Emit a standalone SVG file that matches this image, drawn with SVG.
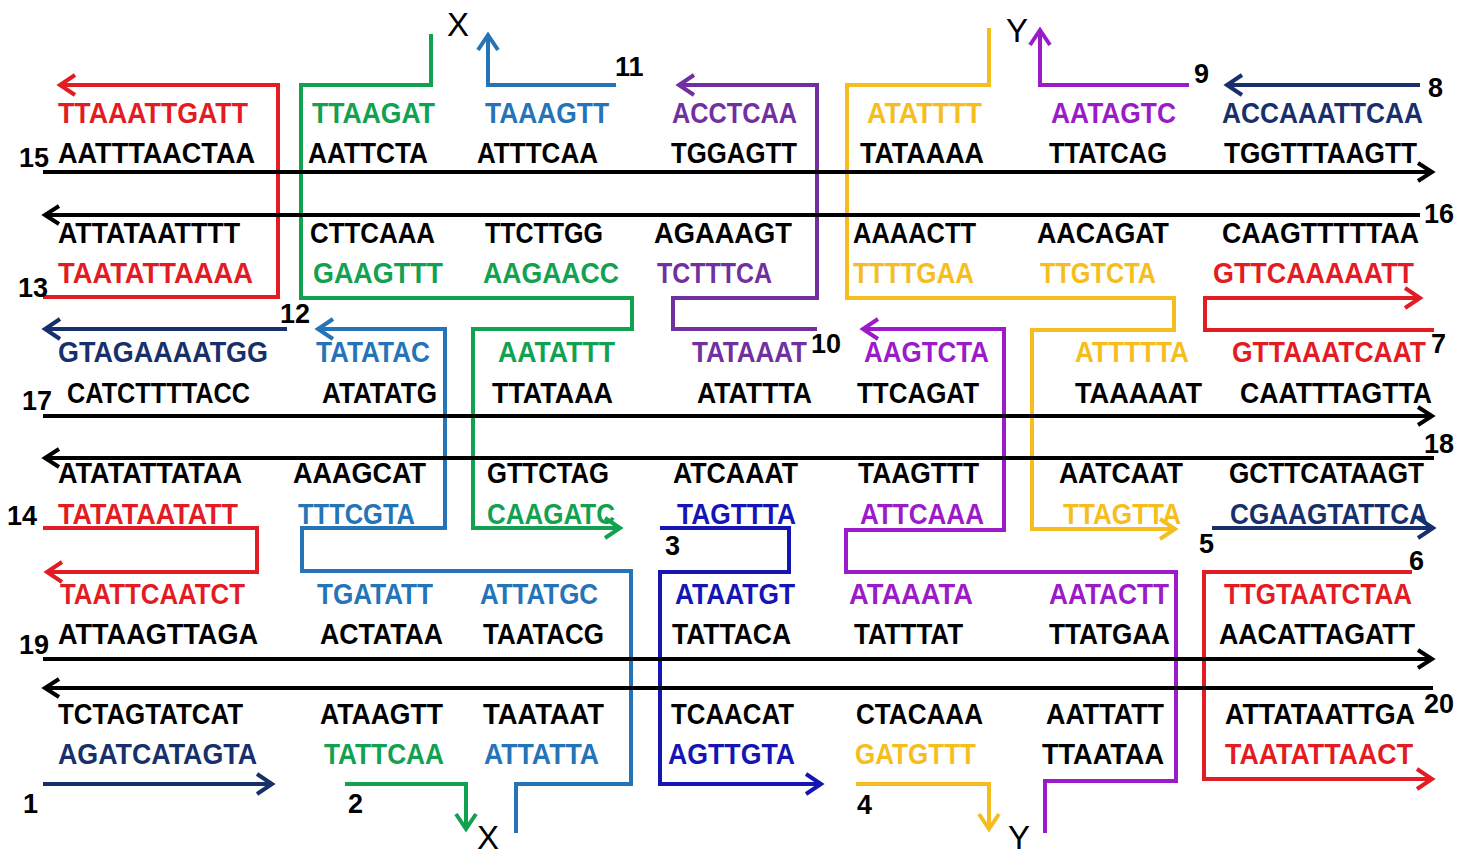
<svg xmlns="http://www.w3.org/2000/svg" width="1472" height="856" viewBox="0 0 1472 856">
<style>
text{font-family:"Liberation Sans",Arial,sans-serif}
.seq{font-size:29px;font-weight:bold}
.num{font-size:27px;font-weight:bold;fill:#000}
.xy{font-size:33px;fill:#000}
.k{fill:#000}.r{fill:#E31B23}.g{fill:#12A150}.b{fill:#2574B8}.n{fill:#17306B}.d{fill:#1515B5}.p{fill:#7030A0}.q{fill:#9B1BC9}.y{fill:#F5BE1E}
.s{fill:none;stroke-width:4;stroke-linejoin:miter}
.sk{stroke:#000}.sr{stroke:#E31B23}.sg{stroke:#12A150}.sb{stroke:#2574B8}.sn{stroke:#17306B}.sd{stroke:#1515B5}.sp{stroke:#7030A0}.sq{stroke:#9B1BC9}.sy{stroke:#F5BE1E}
.m{fill:none;stroke-width:4}
</style>
<defs>
<marker id="ak" viewBox="0 0 20 20" markerWidth="20" markerHeight="20" refX="18" refY="10" orient="auto" markerUnits="userSpaceOnUse" overflow="visible"><path class="m" d="M4,1 L18,10 L4,19" stroke="#000"/></marker>
<marker id="ar" viewBox="0 0 20 20" markerWidth="20" markerHeight="20" refX="18" refY="10" orient="auto" markerUnits="userSpaceOnUse" overflow="visible"><path class="m" d="M3,0 L18,10 L3,20" stroke="#E31B23"/></marker>
<marker id="ag" viewBox="0 0 20 20" markerWidth="20" markerHeight="20" refX="18" refY="10" orient="auto" markerUnits="userSpaceOnUse" overflow="visible"><path class="m" d="M3,0 L18,10 L3,20" stroke="#12A150"/></marker>
<marker id="ab" viewBox="0 0 20 20" markerWidth="20" markerHeight="20" refX="18" refY="10" orient="auto" markerUnits="userSpaceOnUse" overflow="visible"><path class="m" d="M3,0 L18,10 L3,20" stroke="#2574B8"/></marker>
<marker id="an" viewBox="0 0 20 20" markerWidth="20" markerHeight="20" refX="18" refY="10" orient="auto" markerUnits="userSpaceOnUse" overflow="visible"><path class="m" d="M3,0 L18,10 L3,20" stroke="#17306B"/></marker>
<marker id="ad" viewBox="0 0 20 20" markerWidth="20" markerHeight="20" refX="18" refY="10" orient="auto" markerUnits="userSpaceOnUse" overflow="visible"><path class="m" d="M3,0 L18,10 L3,20" stroke="#1515B5"/></marker>
<marker id="ap" viewBox="0 0 20 20" markerWidth="20" markerHeight="20" refX="18" refY="10" orient="auto" markerUnits="userSpaceOnUse" overflow="visible"><path class="m" d="M3,0 L18,10 L3,20" stroke="#7030A0"/></marker>
<marker id="aq" viewBox="0 0 20 20" markerWidth="20" markerHeight="20" refX="18" refY="10" orient="auto" markerUnits="userSpaceOnUse" overflow="visible"><path class="m" d="M3,0 L18,10 L3,20" stroke="#9B1BC9"/></marker>
<marker id="ay" viewBox="0 0 20 20" markerWidth="20" markerHeight="20" refX="18" refY="10" orient="auto" markerUnits="userSpaceOnUse" overflow="visible"><path class="m" d="M3,0 L18,10 L3,20" stroke="#F5BE1E"/></marker>
</defs>
<rect width="1472" height="856" fill="#fff"/>

<g id="strands">
<path class="s sr" d="M43,297 H278 V85 H60" marker-end="url(#ar)"/>
<path class="s sg" d="M431,34 V85 H301 V298 H632 V329 H473 V528 H620" marker-end="url(#ag)"/>
<path class="s sb" d="M616,85 H488 V35" marker-end="url(#ab)"/>
<path class="s sp" d="M817,329 H673 V298 H817 V85 H679" marker-end="url(#ap)"/>
<path class="s sy" d="M989,28 V85 H847 V298 H1174 V330 H1032 V529 H1175" marker-end="url(#ay)"/>
<path class="s sq" d="M1189,85 H1040 V30" marker-end="url(#aq)"/>
<path class="s sn" d="M1420,85 H1227" marker-end="url(#an)"/>
<path class="s sn" d="M287,329 H45" marker-end="url(#an)"/>
<path class="s sb" d="M516,833 V784 H631 V571 H302 V528 H445 V329 H318" marker-end="url(#ab)"/>
<path class="s sq" d="M1045,833 V781 H1176 V572 H846 V530 H1004 V329 H863" marker-end="url(#aq)"/>
<path class="s sr" d="M1434,330 H1205 V298 H1420" marker-end="url(#ar)"/>
<path class="s sr" d="M43,528 H257 V572 H47" marker-end="url(#ar)"/>
<path class="s sd" d="M660,528 H789 V572 H660 V784 H821" marker-end="url(#ad)"/>
<path class="s sn" d="M1212,528 H1433" marker-end="url(#an)"/>
<path class="s sr" d="M1412,572 H1204 V779 H1432" marker-end="url(#ar)"/>
<path class="s sn" d="M43,784 H272" marker-end="url(#an)"/>
<path class="s sg" d="M345,784 H466 V829" marker-end="url(#ag)"/>
<path class="s sy" d="M856,784 H989 V829" marker-end="url(#ay)"/>
</g>

<g id="duplex">
<path class="s sk" d="M43,172 H1432" marker-end="url(#ak)"/>
<path class="s sk" d="M1420,215 H45" marker-end="url(#ak)"/>
<path class="s sk" d="M43,416 H1432" marker-end="url(#ak)"/>
<path class="s sk" d="M1434,458 H45" marker-end="url(#ak)"/>
<path class="s sk" d="M43,659 H1432" marker-end="url(#ak)"/>
<path class="s sk" d="M1433,688 H45" marker-end="url(#ak)"/>
</g>

<g id="rowA" class="seq">
<text class="r" x="58" y="123" textLength="190" lengthAdjust="spacingAndGlyphs">TTAAATTGATT</text>
<text class="g" x="312" y="123" textLength="123" lengthAdjust="spacingAndGlyphs">TTAAGAT</text>
<text class="b" x="485" y="123" textLength="124" lengthAdjust="spacingAndGlyphs">TAAAGTT</text>
<text class="p" x="672" y="123" textLength="125" lengthAdjust="spacingAndGlyphs">ACCTCAA</text>
<text class="y" x="867" y="123" textLength="115" lengthAdjust="spacingAndGlyphs">ATATTTT</text>
<text class="q" x="1051" y="123" textLength="125" lengthAdjust="spacingAndGlyphs">AATAGTC</text>
<text class="n" x="1222" y="123" textLength="201" lengthAdjust="spacingAndGlyphs">ACCAAATTCAA</text>
</g>
<g id="rowB" class="seq">
<text class="k" x="58" y="163" textLength="197" lengthAdjust="spacingAndGlyphs">AATTTAACTAA</text>
<text class="k" x="308" y="163" textLength="120" lengthAdjust="spacingAndGlyphs">AATTCTA</text>
<text class="k" x="477" y="163" textLength="121" lengthAdjust="spacingAndGlyphs">ATTTCAA</text>
<text class="k" x="671" y="163" textLength="126" lengthAdjust="spacingAndGlyphs">TGGAGTT</text>
<text class="k" x="860" y="163" textLength="124" lengthAdjust="spacingAndGlyphs">TATAAAA</text>
<text class="k" x="1049" y="163" textLength="118" lengthAdjust="spacingAndGlyphs">TTATCAG</text>
<text class="k" x="1224" y="163" textLength="193" lengthAdjust="spacingAndGlyphs">TGGTTTAAGTT</text>
</g>
<g id="rowC" class="seq">
<text class="k" x="58" y="243" textLength="182" lengthAdjust="spacingAndGlyphs">ATTATAATTTT</text>
<text class="k" x="310" y="243" textLength="125" lengthAdjust="spacingAndGlyphs">CTTCAAA</text>
<text class="k" x="485" y="243" textLength="118" lengthAdjust="spacingAndGlyphs">TTCTTGG</text>
<text class="k" x="654" y="243" textLength="138" lengthAdjust="spacingAndGlyphs">AGAAAGT</text>
<text class="k" x="853" y="243" textLength="123" lengthAdjust="spacingAndGlyphs">AAAACTT</text>
<text class="k" x="1037" y="243" textLength="132" lengthAdjust="spacingAndGlyphs">AACAGAT</text>
<text class="k" x="1222" y="243" textLength="197" lengthAdjust="spacingAndGlyphs">CAAGTTTTTAA</text>
</g>
<g id="rowD" class="seq">
<text class="r" x="58" y="283" textLength="195" lengthAdjust="spacingAndGlyphs">TAATATTAAAA</text>
<text class="g" x="313" y="283" textLength="130" lengthAdjust="spacingAndGlyphs">GAAGTTT</text>
<text class="g" x="483" y="283" textLength="136" lengthAdjust="spacingAndGlyphs">AAGAACC</text>
<text class="p" x="657" y="283" textLength="115" lengthAdjust="spacingAndGlyphs">TCTTTCA</text>
<text class="y" x="853" y="283" textLength="121" lengthAdjust="spacingAndGlyphs">TTTTGAA</text>
<text class="y" x="1040" y="283" textLength="116" lengthAdjust="spacingAndGlyphs">TTGTCTA</text>
<text class="r" x="1213" y="283" textLength="201" lengthAdjust="spacingAndGlyphs">GTTCAAAAATT</text>
</g>
<g id="rowE" class="seq">
<text class="n" x="58" y="362" textLength="210" lengthAdjust="spacingAndGlyphs">GTAGAAAATGG</text>
<text class="b" x="316" y="362" textLength="114" lengthAdjust="spacingAndGlyphs">TATATAC</text>
<text class="g" x="498" y="362" textLength="117" lengthAdjust="spacingAndGlyphs">AATATTT</text>
<text class="p" x="692" y="362" textLength="115" lengthAdjust="spacingAndGlyphs">TATAAAT</text>
<text class="q" x="864" y="362" textLength="125" lengthAdjust="spacingAndGlyphs">AAGTCTA</text>
<text class="y" x="1075" y="362" textLength="114" lengthAdjust="spacingAndGlyphs">ATTTTTA</text>
<text class="r" x="1232" y="362" textLength="194" lengthAdjust="spacingAndGlyphs">GTTAAATCAAT</text>
</g>
<g id="rowF" class="seq">
<text class="k" x="67" y="403" textLength="183" lengthAdjust="spacingAndGlyphs">CATCTTTTACC</text>
<text class="k" x="322" y="403" textLength="115" lengthAdjust="spacingAndGlyphs">ATATATG</text>
<text class="k" x="492" y="403" textLength="121" lengthAdjust="spacingAndGlyphs">TTATAAA</text>
<text class="k" x="697" y="403" textLength="115" lengthAdjust="spacingAndGlyphs">ATATTTA</text>
<text class="k" x="857" y="403" textLength="122" lengthAdjust="spacingAndGlyphs">TTCAGAT</text>
<text class="k" x="1075" y="403" textLength="127" lengthAdjust="spacingAndGlyphs">TAAAAAT</text>
<text class="k" x="1240" y="403" textLength="192" lengthAdjust="spacingAndGlyphs">CAATTTAGTTA</text>
</g>
<g id="rowG" class="seq">
<text class="k" x="58" y="483" textLength="184" lengthAdjust="spacingAndGlyphs">ATATATTATAA</text>
<text class="k" x="293" y="483" textLength="133" lengthAdjust="spacingAndGlyphs">AAAGCAT</text>
<text class="k" x="487" y="483" textLength="122" lengthAdjust="spacingAndGlyphs">GTTCTAG</text>
<text class="k" x="673" y="483" textLength="125" lengthAdjust="spacingAndGlyphs">ATCAAAT</text>
<text class="k" x="858" y="483" textLength="121" lengthAdjust="spacingAndGlyphs">TAAGTTT</text>
<text class="k" x="1059" y="483" textLength="124" lengthAdjust="spacingAndGlyphs">AATCAAT</text>
<text class="k" x="1229" y="483" textLength="195" lengthAdjust="spacingAndGlyphs">GCTTCATAAGT</text>
</g>
<g id="rowH" class="seq">
<text class="r" x="58" y="524" textLength="180" lengthAdjust="spacingAndGlyphs">TATATAATATT</text>
<text class="b" x="298" y="524" textLength="117" lengthAdjust="spacingAndGlyphs">TTTCGTA</text>
<text class="g" x="487" y="524" textLength="128" lengthAdjust="spacingAndGlyphs">CAAGATC</text>
<text class="d" x="677" y="524" textLength="119" lengthAdjust="spacingAndGlyphs">TAGTTTA</text>
<text class="q" x="860" y="524" textLength="124" lengthAdjust="spacingAndGlyphs">ATTCAAA</text>
<text class="y" x="1063" y="524" textLength="118" lengthAdjust="spacingAndGlyphs">TTAGTTA</text>
<text class="n" x="1230" y="524" textLength="198" lengthAdjust="spacingAndGlyphs">CGAAGTATTCA</text>
</g>
<g id="rowI" class="seq">
<text class="r" x="60" y="604" textLength="185" lengthAdjust="spacingAndGlyphs">TAATTCAATCT</text>
<text class="b" x="317" y="604" textLength="116" lengthAdjust="spacingAndGlyphs">TGATATT</text>
<text class="b" x="480" y="604" textLength="118" lengthAdjust="spacingAndGlyphs">ATTATGC</text>
<text class="d" x="675" y="604" textLength="120" lengthAdjust="spacingAndGlyphs">ATAATGT</text>
<text class="q" x="849" y="604" textLength="124" lengthAdjust="spacingAndGlyphs">ATAAATA</text>
<text class="q" x="1049" y="604" textLength="120" lengthAdjust="spacingAndGlyphs">AATACTT</text>
<text class="r" x="1224" y="604" textLength="188" lengthAdjust="spacingAndGlyphs">TTGTAATCTAA</text>
</g>
<g id="rowJ" class="seq">
<text class="k" x="58" y="644" textLength="200" lengthAdjust="spacingAndGlyphs">ATTAAGTTAGA</text>
<text class="k" x="320" y="644" textLength="123" lengthAdjust="spacingAndGlyphs">ACTATAA</text>
<text class="k" x="483" y="644" textLength="121" lengthAdjust="spacingAndGlyphs">TAATACG</text>
<text class="k" x="672" y="644" textLength="119" lengthAdjust="spacingAndGlyphs">TATTACA</text>
<text class="k" x="854" y="644" textLength="109" lengthAdjust="spacingAndGlyphs">TATTTAT</text>
<text class="k" x="1049" y="644" textLength="121" lengthAdjust="spacingAndGlyphs">TTATGAA</text>
<text class="k" x="1219" y="644" textLength="196" lengthAdjust="spacingAndGlyphs">AACATTAGATT</text>
</g>
<g id="rowK" class="seq">
<text class="k" x="58" y="724" textLength="185" lengthAdjust="spacingAndGlyphs">TCTAGTATCAT</text>
<text class="k" x="320" y="724" textLength="123" lengthAdjust="spacingAndGlyphs">ATAAGTT</text>
<text class="k" x="483" y="724" textLength="121" lengthAdjust="spacingAndGlyphs">TAATAAT</text>
<text class="k" x="671" y="724" textLength="123" lengthAdjust="spacingAndGlyphs">TCAACAT</text>
<text class="k" x="856" y="724" textLength="127" lengthAdjust="spacingAndGlyphs">CTACAAA</text>
<text class="k" x="1046" y="724" textLength="118" lengthAdjust="spacingAndGlyphs">AATTATT</text>
<text class="k" x="1225" y="724" textLength="190" lengthAdjust="spacingAndGlyphs">ATTATAATTGA</text>
</g>
<g id="rowL" class="seq">
<text class="n" x="58" y="764" textLength="199" lengthAdjust="spacingAndGlyphs">AGATCATAGTA</text>
<text class="g" x="324" y="764" textLength="120" lengthAdjust="spacingAndGlyphs">TATTCAA</text>
<text class="b" x="484" y="764" textLength="115" lengthAdjust="spacingAndGlyphs">ATTATTA</text>
<text class="d" x="668" y="764" textLength="127" lengthAdjust="spacingAndGlyphs">AGTTGTA</text>
<text class="y" x="855" y="764" textLength="121" lengthAdjust="spacingAndGlyphs">GATGTTT</text>
<text class="k" x="1042" y="764" textLength="122" lengthAdjust="spacingAndGlyphs">TTAATAA</text>
<text class="r" x="1225" y="764" textLength="188" lengthAdjust="spacingAndGlyphs">TAATATTAACT</text>
</g>

<g id="labels">
<text class="num" x="19" y="167">15</text>
<text class="num" x="1424" y="223">16</text>
<text class="num" x="18" y="297">13</text>
<text class="num" x="280" y="323">12</text>
<text class="num" x="22" y="410">17</text>
<text class="num" x="811" y="353">10</text>
<text class="num" x="1431" y="353">7</text>
<text class="num" x="1424" y="453">18</text>
<text class="num" x="7" y="525">14</text>
<text class="num" x="1199" y="553">5</text>
<text class="num" x="665" y="555">3</text>
<text class="num" x="1409" y="570">6</text>
<text class="num" x="19" y="654">19</text>
<text class="num" x="1424" y="713">20</text>
<text class="num" x="23" y="813">1</text>
<text class="num" x="348" y="813">2</text>
<text class="num" x="857" y="814">4</text>
<text class="num" x="615" y="76">11</text>
<text class="num" x="1194" y="83">9</text>
<text class="num" x="1428" y="97">8</text>
<text class="xy" x="447" y="36">X</text>
<text class="xy" x="1006" y="42">Y</text>
<text class="xy" x="477" y="849">X</text>
<text class="xy" x="1008" y="849">Y</text>
</g>
</svg>
